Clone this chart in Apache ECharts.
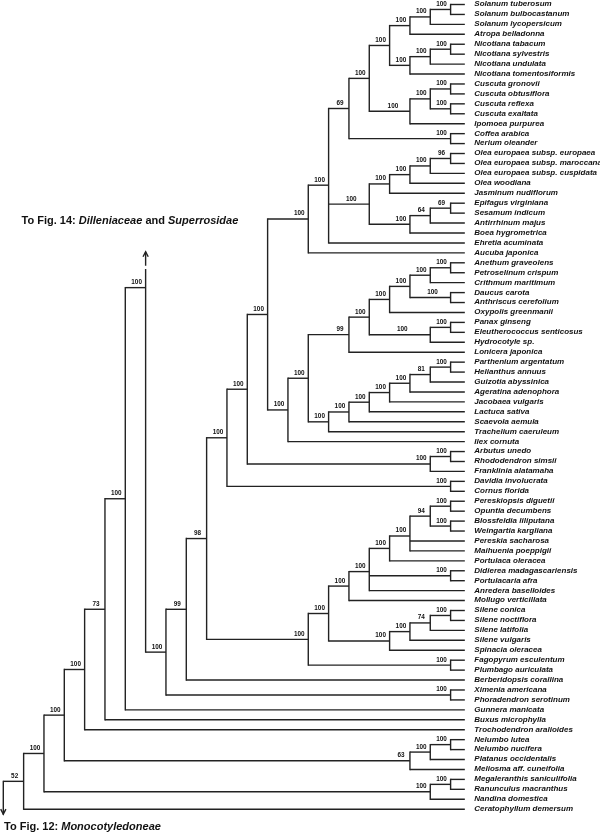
<!DOCTYPE html>
<html><head><meta charset="utf-8">
<script src="https://cdn.jsdelivr.net/npm/echarts@6/dist/echarts.min.js"></script>
<style>html,body{margin:0;padding:0;background:#fff}#c{width:600px;height:834px}</style>
</head><body><div id="c"></div>
<script>
// ---- leaves (top to bottom) ----
const leafNames = [
 'Solanum tuberosum','Solanum bulbocastanum','Solanum lycopersicum','Atropa belladonna',
 'Nicotiana tabacum','Nicotiana sylvestris','Nicotiana undulata','Nicotiana tomentosiformis',
 'Cuscuta gronovii','Cuscuta obtusiflora','Cuscuta reflexa','Cuscuta exaltata','Ipomoea purpurea',
 'Coffea arabica','Nerium oleander',
 'Olea europaea subsp. europaea','Olea europaea subsp. maroccana','Olea europaea subsp. cuspidata',
 'Olea woodiana','Jasminum nudiflorum','Epifagus virginiana','Sesamum indicum','Antirrhinum majus',
 'Boea hygrometrica','Ehretia acuminata','Aucuba japonica',
 'Anethum graveolens','Petroselinum crispum','Crithmum maritimum','Daucus carota','Anthriscus cerefolium',
 'Oxypolis greenmanii','Panax ginseng','Eleutherococcus senticosus','Hydrocotyle sp.','Lonicera japonica',
 'Parthenium argentatum','Helianthus annuus','Guizotia abyssinica','Ageratina adenophora','Jacobaea vulgaris',
 'Lactuca sativa','Scaevola aemula','Trachelium caeruleum','Ilex cornuta',
 'Arbutus unedo','Rhododendron simsii','Franklinia alatamaha','Davidia involucrata','Cornus florida',
 'Pereskiopsis diguetii','Opuntia decumbens','Blossfeldia liliputana','Weingartia kargliana',
 'Pereskia sacharosa','Maihuenia poeppigii','Portulaca oleracea','Didierea madagascariensis',
 'Portulacaria afra','Anredera baselloides','Mollugo verticillata',
 'Silene conica','Silene noctiflora','Silene latifolia','Silene vulgaris','Spinacia oleracea',
 'Fagopyrum esculentum','Plumbago auriculata','Berberidopsis corallina',
 'Ximenia americana','Phoradendron serotinum','Gunnera manicata','Buxus microphylla',
 'Trochodendron aralioides','Nelumbo lutea','Nelumbo nucifera','Platanus occidentalis',
 'Meliosma aff. cuneifolia','Megaleranthis saniculifolia','Ranunculus macranthus',
 'Nandina domestica','Ceratophyllum demersum'
];

// ---- internal clades: [id, depth level, bootstrap, children (leaf index or clade id)] ----
const clades = [
 ['n1',22,'100',[0,1]], ['n2',21,'100',['n1',2]], ['n3',20,'100',['n2',3]],
 ['n4',22,'100',[4,5]], ['n5',21,'100',['n4',6]], ['n6',20,'100',['n5',7]],
 ['n7',19,'100',['n3','n6']],
 ['n8',22,'100',[8,9]], ['n9',22,'100',[10,11]], ['n10',21,'100',['n8','n9']], ['n11',20,'100',['n10',12]],
 ['n12',18,'100',['n7','n11']], ['n13',22,'100',[13,14]], ['n14',17,'69',['n12','n13']],
 ['n15',22,'96',[15,16]], ['n16',21,'100',['n15',17]], ['n17',20,'100',['n16',18]], ['n18',19,'100',['n17',19]],
 ['n19',22,'69',[20,21]], ['n20',21,'64',['n19',22]], ['n21',20,'100',['n20',23]],
 ['n22',18,'100',['n18','n21']], ['n23',16,'100',['n14','n22',24]], ['n24',15,'100',['n23',25]],
 ['n25',22,'100',[26,27]], ['n26',21,'100',['n25',28]], ['n27',22,'100',[29,30]], ['n28',20,'100',['n26','n27']],
 ['n29',19,'100',['n28',31]], ['n30',22,'100',[32,33]], ['n31',21,'100',['n30',34]],
 ['n32',18,'100',['n29','n31']], ['n33',17,'99',['n32',35]],
 ['n34',22,'100',[36,37]], ['n35',21,'81',['n34',38]], ['n36',20,'100',['n35',39]], ['n37',19,'100',['n36',40]],
 ['n38',18,'100',['n37',41]], ['n39',17,'100',['n38',42]], ['n40',16,'100',['n39',43]],
 ['n41',15,'100',['n33','n40']], ['n42',14,'100',['n41',44]], ['n43',13,'100',['n24','n42']],
 ['n44',22,'100',[45,46]], ['n45',21,'100',['n44',47]], ['n46',12,'100',['n43','n45']],
 ['n47',22,'100',[48,49]], ['n48',11,'100',['n46','n47']],
 ['n49',22,'100',[50,51]], ['n50',22,'100',[52,53]], ['n51',21,'94',['n49','n50']],
 ['n52',20,'100',['n51',54,55]], ['n53',19,'100',['n52',56]], ['n54',22,'100',[57,58]],
 ['n55',18,'100',['n53','n54',59]], ['n56',17,'100',['n55',60]],
 ['n57',22,'100',[61,62]], ['n58',21,'74',['n57',63]], ['n59',20,'100',['n58',64]], ['n60',19,'100',['n59',65]],
 ['n61',16,'100',['n56','n60']], ['n62',22,'100',[66,67]], ['n63',15,'100',['n61','n62']],
 ['n64',10,'98',['n48','n63']], ['n65',9,'99',['n64',68]], ['n66',22,'100',[69,70]],
 ['n67',8,'100',['n65','n66']], ['n68',7,'100',['UP','n67']], ['n69',6,'100',['n68',71]],
 ['n70',5,'73',['n69',72]], ['n71',4,'100',['n70',73]],
 ['n72',22,'100',[74,75]], ['n73',21,'100',['n72',76]], ['n74',20,'63',['n73',77]],
 ['n75',3,'100',['n71','n74']], ['n76',22,'100',[78,79]], ['n77',21,'100',['n76',80]],
 ['n78',2,'100',['n75','n77']], ['n79',1,'52',['n78',81]], ['root',0,'',['DOWN','n79']]
];

// stems leading to other figures (level, y in leaf-row units)
const stems = { UP: {level: 7, y: 26.7, dir: -1}, DOWN: {level: 0, y: 81.5, dir: 1} };
const nodeYOverride = { n68: 28.5 };
const tipLevel = 22.7;
const notes = [
 { parts: [['To Fig. 14: ', false], ['Dilleniaceae', true], [' and ', false], ['Superrosidae', true]], left: 21.5, top: 215 },
 { parts: [['To Fig. 12: ', false], ['Monocotyledoneae', true]], left: 4, top: 821 }
];
// styling: extra horizontal shift (px) of a few support labels sitting on long branches
const labelShift = { n11: -8, n22: -9, n27: -9, n31: -19 };

// ---- layout ----
const idx = {}; clades.forEach((c, i) => idx[c[0]] = i);
const pos = {};
function place(ref) {
  if (typeof ref === 'number') return { level: tipLevel, y: ref, leaf: true };
  if (stems[ref]) return Object.assign({ stem: true }, stems[ref]);
  if (pos[ref]) return pos[ref];
  const c = clades[idx[ref]];
  const kids = c[3].map(place);
  const y = (ref in nodeYOverride) ? nodeYOverride[ref] : kids.reduce((s, k) => s + k.y, 0) / kids.length;
  pos[ref] = { id: ref, level: c[1], y, kids, support: c[2] };
  return pos[ref];
}
place('root');
const layout = clades.map(c => pos[c[0]]);

const LINE = '#222', LW = 1.4;
const lineStyle = { stroke: LINE, lineWidth: LW, lineCap: 'square' };

function renderClade(params, api) {
  const c = layout[params.dataIndex];
  const p = api.coord([c.level, c.y]);
  const kp = c.kids.map(k => ({ k, q: api.coord([k.level, k.y]) }));
  const ysAll = kp.map(o => o.q[1]);
  const els = [];
  els.push({ type: 'line', shape: { x1: p[0], y1: Math.min(...ysAll), x2: p[0], y2: Math.max(...ysAll) }, style: lineStyle });
  kp.forEach(({ k, q }) => {
    if (q[0] > p[0] + 0.5) els.push({ type: 'line', shape: { x1: p[0], y1: q[1], x2: q[0], y2: q[1] }, style: { stroke: LINE, lineWidth: LW } });
    if (k.stem) {
      const x = q[0];
      if (k.dir < 0) {
        const y0 = q[1] - 4, y1 = q[1] - 18;
        els.push({ type: 'line', shape: { x1: x, y1: y0, x2: x, y2: y1 }, style: { stroke: LINE, lineWidth: LW } });
        els.push({ type: 'polyline', shape: { points: [[x - 2.6, y1 + 5], [x, y1], [x + 2.6, y1 + 5]] }, style: { stroke: LINE, lineWidth: LW, fill: null } });
      } else {
        const y1 = q[1];
        els.push({ type: 'polyline', shape: { points: [[x - 2.6, y1 - 5], [x, y1], [x + 2.6, y1 - 5]] }, style: { stroke: LINE, lineWidth: LW, fill: null } });
      }
    }
  });
  if (c.support) {
    els.push({ type: 'text', x: p[0] - 9 + (labelShift[c.id] || 0), y: p[1] - 1.6, scaleX: 0.85,
      style: { text: c.support, textAlign: 'center', textVerticalAlign: 'bottom',
        font: 'bold 7.5px "Liberation Sans", Arial, sans-serif', fill: '#111' } });
  }
  return { type: 'group', children: els };
}

function renderLeaf(params, api) {
  const q = api.coord([tipLevel, params.dataIndex]);
  return { type: 'text', x: q[0] + 9.5, y: q[1] - 0.3,
    style: { text: leafNames[params.dataIndex], textAlign: 'left', textVerticalAlign: 'middle',
      font: 'italic bold 8px "Liberation Sans", Arial, sans-serif', fill: '#111' } };
}

const chart = echarts.init(document.getElementById('c'), null, { renderer: 'canvas' });
chart.setOption({
  animation: false,
  backgroundColor: '#fff',
  grid: { left: 3.3, top: 4.5, width: 447.3, height: 804.7, containLabel: false },
  xAxis: { type: 'value', min: 0, max: 22, show: false },
  yAxis: { type: 'value', min: 0, max: 81, inverse: true, show: false },
  graphic: notes.map(n => ({
    type: 'text', left: n.left, top: n.top,
    style: {
      text: n.parts.map(p => '{' + (p[1] ? 'i' : 'n') + '|' + p[0] + '}').join(''),
      rich: {
        n: { fontSize: 11, fontWeight: 'bold', fontFamily: 'Liberation Sans, Arial, sans-serif', fill: '#111' },
        i: { fontSize: 11, fontWeight: 'bold', fontStyle: 'italic', fontFamily: 'Liberation Sans, Arial, sans-serif', fill: '#111' }
      }
    }
  })),
  series: [
    { type: 'custom', coordinateSystem: 'cartesian2d', clip: false, renderItem: renderClade,
      data: layout.map((c, i) => [c.level, c.y]), silent: true },
    { type: 'custom', coordinateSystem: 'cartesian2d', clip: false, renderItem: renderLeaf,
      data: leafNames.map((n, i) => [tipLevel, i]), silent: true }
  ]
});
</script></body></html>
